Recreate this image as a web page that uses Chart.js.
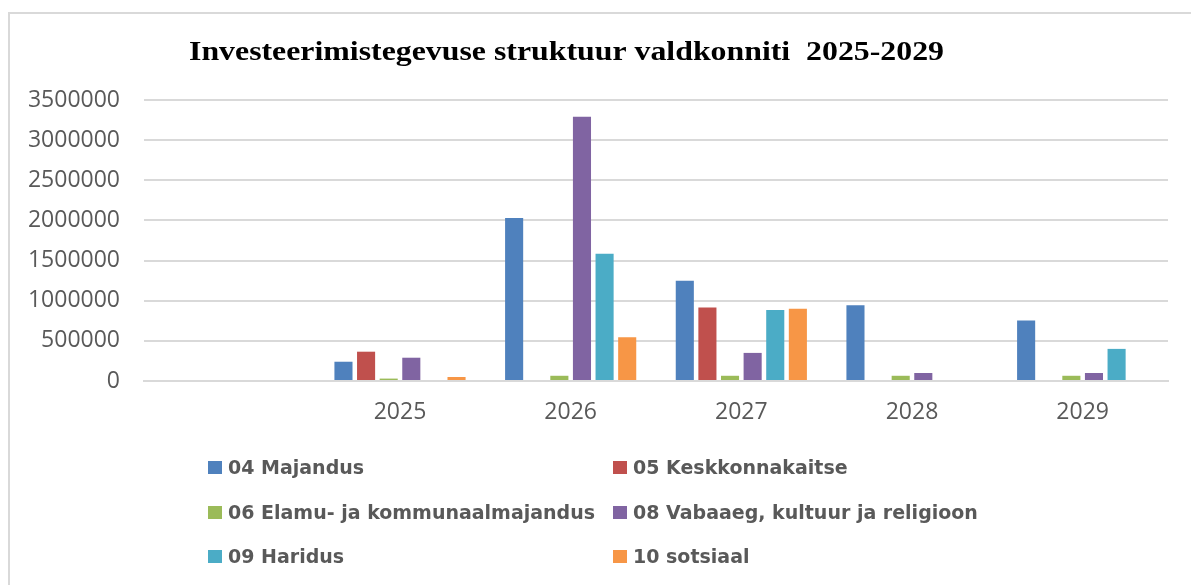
<!DOCTYPE html>
<html>
<head>
<meta charset="utf-8">
<script src="https://cdn.jsdelivr.net/npm/chart.js@4"></script>
<style>
  html, body { margin: 0; padding: 0; background: #fff; }
  #wrap { position: relative; width: 1191px; height: 585px; overflow: hidden; }
  #frame { position: absolute; left: 8px; top: 12px; width: 1300px; height: 700px;
           border-left: 2px solid #d9d9d9; border-top: 2px solid #d9d9d9; box-sizing: border-box; }
  canvas { position: absolute; left: 0; top: 0; }
  #legend { position: absolute; left: 0; top: 0; width: 1191px; height: 585px; pointer-events: none; }
  .li { position: absolute; display: flex; align-items: center; white-space: nowrap;
        font-family: "DejaVu Sans", sans-serif; font-weight: bold; font-size: 19px; color: #595959; }
  .sw { width: 14px; height: 13px; margin-right: 6px; flex: none; }
</style>
</head>
<body>
<div id="wrap">
  <div id="frame"></div>
  <canvas id="c" width="1191" height="585"></canvas>
  <div id="legend"></div>
</div>
<script>
const titleText = "Investeerimistegevuse struktuur valdkonniti  2025-2029";
const categories = ["", "2025", "2026", "2027", "2028", "2029"];
const seriesNames = ["04 Majandus", "05 Keskkonnakaitse", "06 Elamu- ja kommunaalmajandus",
                     "08 Vabaaeg, kultuur ja religioon", "09 Haridus", "10 sotsiaal"];
const majandus      = [null, 240000, 2030000, 1250000, 945000, 755000];
const keskkond      = [null, 365000, 0, 915000, 0, 0];
const elamu         = [null, 30000, 65000, 65000, 65000, 65000];
const vabaaeg       = [null, 290000, 3290000, 350000, 100000, 100000];
const haridus       = [null, 0, 1585000, 885000, 0, 400000];
const sotsiaal      = [null, 50000, 545000, 900000, 0, 0];
const yTickValues   = [0, 500000, 1000000, 1500000, 2000000, 2500000, 3000000, 3500000];

const colors = ["#4F81BD", "#C0504D", "#9BBB59", "#8064A2", "#4BACC6", "#F79646"];
const seriesValues = [majandus, keskkond, elamu, vabaaeg, haridus, sotsiaal];

const datasets = seriesNames.map((n, i) => ({
  label: n,
  data: seriesValues[i],
  backgroundColor: colors[i],
  borderWidth: 0,
  categoryPercentage: 0.795,
  barPercentage: 0.8
}));

const titlePlugin = {
  id: 'customTitle',
  afterDraw(chart) {
    const ctx = chart.ctx;
    ctx.save();
    ctx.font = "bold 27px 'Liberation Serif', serif";
    ctx.fillStyle = "#000";
    ctx.textBaseline = "alphabetic";
    const w = ctx.measureText(titleText).width;
    const target = 755;
    ctx.translate(189, 60);
    ctx.scale(target / w, 1);
    ctx.fillText(titleText, 0, 0);
    ctx.restore();
  }
};

const chart = new Chart(document.getElementById('c'), {
  type: 'bar',
  data: { labels: categories, datasets },
  options: {
    responsive: false,
    animation: false,
    devicePixelRatio: 1,
    layout: { padding: { left: 0, right: 23, top: 100, bottom: 144 } },
    plugins: { legend: { display: false }, title: { display: false }, tooltip: { enabled: false } },
    scales: {
      x: {
        grid: { display: false, drawTicks: false },
        border: { display: true, color: '#d9d9d9', width: 2 },
        ticks: { color: '#595959', font: { family: "'Open Sans', sans-serif", size: 23 }, padding: 18, maxRotation: 0 },
        afterFit(s) { s.height = 60; }
      },
      y: {
        min: 0, max: 3500000,
        grid: { color: '#d9d9d9', lineWidth: 2, drawTicks: false },
        border: { display: false },
        afterBuildTicks(s) { s.ticks = yTickValues.map(v => ({ value: v })); },
        ticks: { color: '#595959', font: { family: "'Open Sans', sans-serif", size: 23 }, padding: 24,
                 callback: v => String(v) },
        afterFit(s) { s.width = 144; }
      }
    }
  },
  plugins: [titlePlugin]
});

// HTML legend built from chart datasets
const legendEl = document.getElementById('legend');
const colLefts = [208, 613];
const rowCenters = [467, 512, 556];
chart.data.datasets.forEach((ds, i) => {
  const item = document.createElement('div');
  item.className = 'li';
  const sw = document.createElement('span');
  sw.className = 'sw';
  sw.style.background = ds.backgroundColor;
  const tx = document.createElement('span');
  tx.textContent = ds.label;
  item.appendChild(sw);
  item.appendChild(tx);
  item.style.left = colLefts[i % 2] + 'px';
  item.style.top = (rowCenters[Math.floor(i / 2)] - 12) + 'px';
  item.style.height = '24px';
  legendEl.appendChild(item);
});
</script>
</body>
</html>
